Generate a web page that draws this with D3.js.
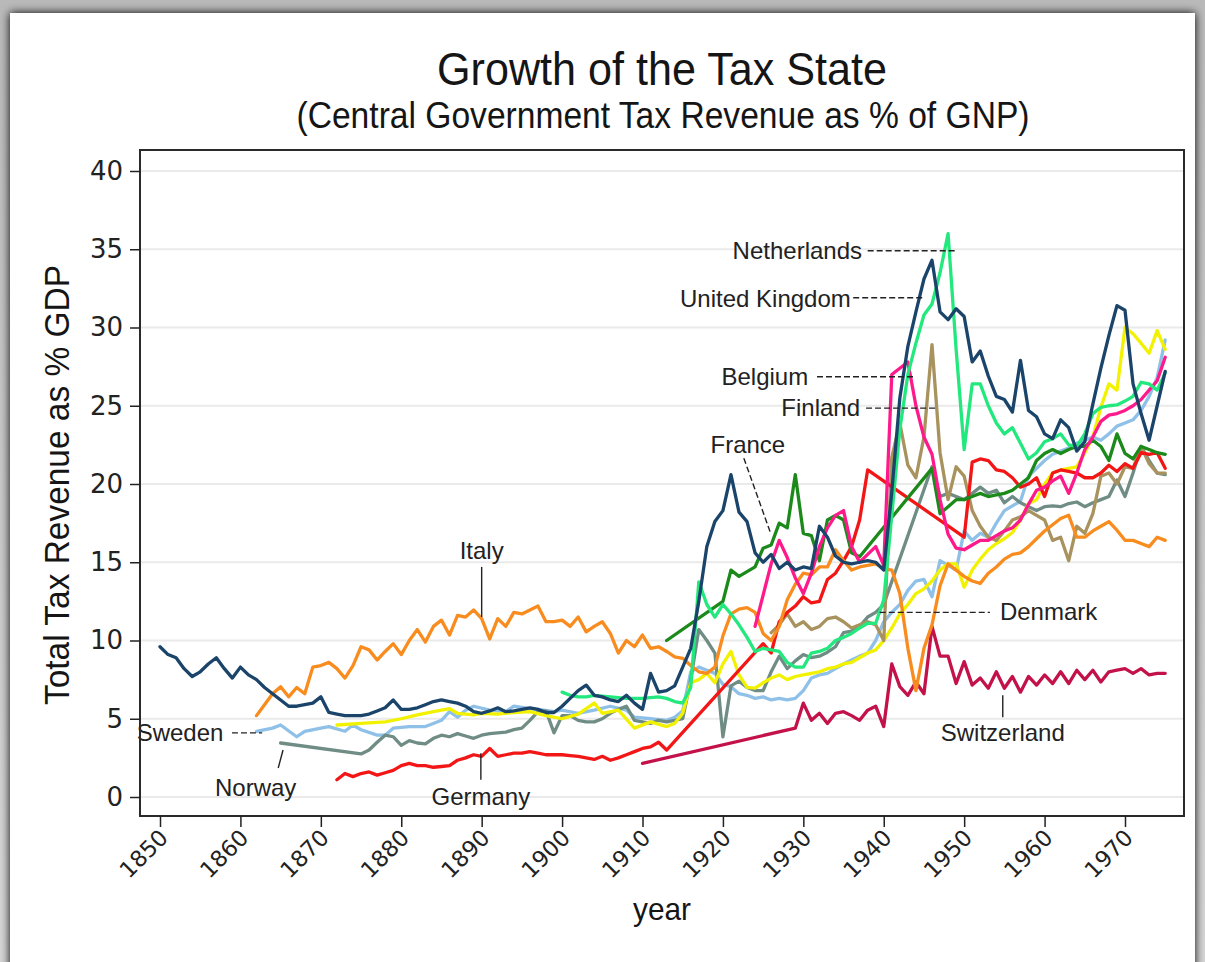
<!DOCTYPE html>
<html><head><meta charset="utf-8">
<script src="https://cdn.jsdelivr.net/npm/d3@7"></script>
<style>
html,body{margin:0;padding:0;background:#c4c4c4;}
svg{display:block;}
</style></head>
<body>
<svg id="chart" width="1205" height="962"></svg>
<script>
// ---------- data (year, % of GDP) ----------
const unitedKingdom = [[1850,9.6],[1851,9.1],[1852,8.9],[1853,8.2],[1854,7.7],[1855,8.0],[1856,8.5],[1857,8.9],[1858,8.2],[1859,7.6],[1860,8.3],[1861,7.8],[1862,7.5],[1863,7.0],[1864,6.6],[1865,6.2],[1866,5.8],[1867,5.8],[1868,5.9],[1869,6.0],[1870,6.4],[1871,5.4],[1872,5.3],[1873,5.2],[1874,5.2],[1875,5.2],[1876,5.3],[1877,5.5],[1878,5.7],[1879,6.2],[1880,5.6],[1881,5.6],[1882,5.7],[1883,5.9],[1884,6.1],[1885,6.2],[1886,6.1],[1887,6.0],[1888,5.8],[1889,5.45],[1890,5.35],[1891,5.5],[1892,5.7],[1893,5.45],[1894,5.5],[1895,5.6],[1896,5.7],[1897,5.6],[1898,5.4],[1899,5.4],[1900,5.8],[1901,6.3],[1902,6.8],[1903,7.15],[1904,6.5],[1905,6.4],[1906,6.2],[1907,6.1],[1908,6.5],[1909,6.0],[1910,5.6],[1911,7.9],[1912,6.7],[1913,6.8],[1914,7.1],[1915,8.3],[1916,9.5],[1917,12.5],[1918,16.0],[1919,17.6],[1920,18.3],[1921,20.6],[1922,18.2],[1923,17.6],[1924,15.6],[1925,15.0],[1926,15.5],[1927,14.6],[1928,15.0],[1929,14.5],[1930,14.7],[1931,14.6],[1932,17.3],[1933,16.6],[1934,15.4],[1935,15.0],[1936,14.9],[1937,15.0],[1938,15.1],[1939,15.0],[1940,14.5],[1941,19.5],[1942,25.5],[1943,28.8],[1944,31.0],[1945,33.1],[1946,34.3],[1947,31.0],[1948,30.5],[1949,31.2],[1950,30.7],[1951,27.8],[1952,28.5],[1953,26.9],[1954,25.6],[1955,25.4],[1956,24.6],[1957,27.9],[1958,24.7],[1959,24.3],[1960,23.2],[1961,22.9],[1962,24.1],[1963,23.6],[1964,22.1],[1965,22.7],[1966,25.1],[1967,27.4],[1968,29.5],[1969,31.4],[1970,31.1],[1971,26.4],[1972,24.5],[1973,22.8],[1974,25.0],[1975,27.2]];

const italy = [[1862,5.2],[1863,5.9],[1864,6.6],[1865,7.05],[1866,6.4],[1867,7.0],[1868,6.6],[1869,8.3],[1870,8.4],[1871,8.6],[1872,8.2],[1873,7.6],[1874,8.4],[1875,9.6],[1876,9.4],[1877,8.75],[1878,9.3],[1879,9.8],[1880,9.1],[1881,10.0],[1882,10.7],[1883,9.9],[1884,10.9],[1885,11.3],[1886,10.35],[1887,11.6],[1888,11.5],[1889,11.95],[1890,11.4],[1891,10.1],[1892,11.4],[1893,10.9],[1894,11.8],[1895,11.7],[1896,11.95],[1897,12.2],[1898,11.2],[1899,11.2],[1900,11.3],[1901,10.9],[1902,11.5],[1903,10.55],[1904,10.9],[1905,11.2],[1906,10.45],[1907,9.2],[1908,10.0],[1909,9.6],[1910,10.35],[1911,9.5],[1912,9.6],[1913,9.3],[1914,8.96],[1915,8.86],[1916,8.4],[1917,8.0],[1918,7.9],[1919,8.3],[1920,10.3],[1921,11.7],[1922,12.0],[1923,12.1],[1924,11.8],[1925,10.45],[1926,10.0],[1927,10.9],[1928,12.6],[1929,13.6],[1930,14.3],[1931,14.2],[1932,14.7],[1933,14.7],[1934,15.8],[1935,15.1],[1936,14.5],[1937,14.7],[1938,14.8],[1939,14.9],[1940,14.6],[1941,14.5],[1942,13.0],[1943,9.5],[1944,6.8],[1945,9.5],[1946,11.0],[1947,13.5],[1948,14.9],[1949,14.5],[1950,14.1],[1951,13.8],[1952,13.65],[1953,14.3],[1954,14.7],[1955,15.2],[1956,15.5],[1957,15.6],[1958,16.0],[1959,16.5],[1960,17.0],[1961,17.4],[1962,17.8],[1963,18.0],[1964,16.6],[1965,16.6],[1966,17.0],[1967,17.3],[1968,17.6],[1969,17.05],[1970,16.4],[1971,16.4],[1972,16.2],[1973,16.0],[1974,16.6],[1975,16.4]];

const germany = [[1872,1.1],[1873,1.5],[1874,1.3],[1875,1.5],[1876,1.6],[1877,1.4],[1878,1.55],[1879,1.7],[1880,2.0],[1881,2.15],[1882,2.0],[1883,2.0],[1884,1.9],[1885,1.95],[1886,2.0],[1887,2.35],[1888,2.5],[1889,2.7],[1890,2.6],[1891,3.1],[1892,2.6],[1893,2.7],[1894,2.8],[1895,2.8],[1896,2.9],[1897,2.8],[1898,2.7],[1899,2.7],[1900,2.7],[1901,2.65],[1902,2.6],[1903,2.5],[1904,2.4],[1905,2.6],[1906,2.35],[1907,2.5],[1908,2.7],[1909,2.9],[1910,3.1],[1911,3.2],[1912,3.5],[1913,3.0],[1925,9.8],[1926,9.2],[1927,11.2],[1928,11.8],[1929,12.2],[1930,12.8],[1931,12.4],[1932,12.5],[1933,13.9],[1934,14.3],[1935,15.1],[1936,16.0],[1937,17.7],[1938,20.9],[1950,16.6],[1951,21.4],[1952,21.6],[1953,21.5],[1954,20.9],[1955,20.8],[1956,20.4],[1957,19.8],[1958,20.0],[1959,20.4],[1960,19.2],[1961,20.7],[1962,20.9],[1963,20.8],[1964,20.7],[1965,20.4],[1966,20.4],[1967,20.7],[1968,21.2],[1969,20.8],[1970,21.3],[1971,21.0],[1972,22.0],[1973,21.9],[1974,22.0],[1975,21.0]];

const switzerland = [[1910,2.15],[1929,4.4],[1930,6.0],[1931,4.9],[1932,5.35],[1933,4.7],[1934,5.35],[1935,5.45],[1936,5.2],[1937,4.9],[1938,5.55],[1939,5.8],[1940,4.5],[1941,8.5],[1942,7.05],[1943,6.5],[1944,7.35],[1945,6.6],[1946,10.9],[1947,9.0],[1948,9.0],[1949,7.25],[1950,8.65],[1951,7.15],[1952,7.6],[1953,6.95],[1954,8.0],[1955,6.95],[1956,7.7],[1957,6.7],[1958,7.7],[1959,7.15],[1960,7.8],[1961,7.25],[1962,8.0],[1963,7.25],[1964,8.1],[1965,7.5],[1966,8.1],[1967,7.35],[1968,8.0],[1969,8.1],[1970,8.2],[1971,7.9],[1972,8.2],[1973,7.8],[1974,7.9],[1975,7.9]];

const sweden = [[1862,4.2],[1864,4.4],[1865,4.6],[1867,3.85],[1868,4.2],[1870,4.4],[1871,4.5],[1873,4.2],[1874,4.6],[1875,4.3],[1877,3.95],[1878,3.95],[1879,4.4],[1881,4.5],[1883,4.5],[1884,4.7],[1885,4.9],[1886,5.45],[1887,5.1],[1888,5.55],[1889,5.8],[1891,5.55],[1893,5.45],[1894,5.8],[1896,5.65],[1897,5.6],[1899,5.45],[1900,5.55],[1902,5.35],[1904,5.55],[1906,5.8],[1908,5.55],[1909,5.1],[1911,5.0],[1913,4.9],[1914,5.1],[1915,5.5],[1916,8.0],[1917,8.3],[1918,8.1],[1919,7.9],[1920,7.2],[1921,7.05],[1922,6.6],[1923,6.5],[1924,6.3],[1925,6.4],[1926,6.2],[1927,6.3],[1928,6.2],[1929,6.3],[1930,6.8],[1931,7.6],[1932,7.8],[1933,7.9],[1934,8.2],[1935,8.5],[1936,8.75],[1937,9.0],[1938,9.2],[1939,10.0],[1940,11.2],[1941,11.8],[1942,12.3],[1943,13.2],[1944,13.8],[1945,13.9],[1946,12.8],[1947,15.1],[1948,14.8],[1949,14.5],[1950,17.0],[1951,16.4],[1952,16.85],[1953,16.6],[1954,17.5],[1955,18.3],[1956,18.6],[1957,18.9],[1958,20.5],[1959,21.0],[1960,21.5],[1961,21.9],[1962,22.1],[1963,22.3],[1964,22.6],[1965,22.8],[1966,23.0],[1967,22.8],[1968,23.2],[1969,23.7],[1970,23.9],[1971,24.1],[1972,24.7],[1973,25.6],[1974,26.8],[1975,29.2]];

const norway = [[1865,3.45],[1875,2.75],[1876,3.0],[1877,3.5],[1878,3.95],[1879,3.85],[1880,3.3],[1881,3.6],[1882,3.45],[1883,3.4],[1884,3.75],[1885,3.95],[1886,3.85],[1887,4.05],[1888,3.9],[1889,3.75],[1890,3.95],[1891,4.05],[1892,4.1],[1893,4.15],[1894,4.3],[1895,4.4],[1896,4.9],[1897,5.45],[1898,5.5],[1899,4.1],[1900,5.2],[1901,5.2],[1902,4.9],[1903,4.8],[1904,4.8],[1905,5.0],[1906,5.35],[1907,5.6],[1908,5.8],[1909,4.9],[1910,4.8],[1911,4.7],[1912,4.9],[1913,4.8],[1914,4.9],[1915,5.0],[1916,7.5],[1917,10.7],[1918,10.0],[1919,9.2],[1920,3.85],[1921,7.1],[1922,7.4],[1923,7.0],[1924,6.8],[1925,6.8],[1926,8.0],[1927,9.0],[1928,8.2],[1929,8.7],[1930,9.1],[1931,8.9],[1932,9.0],[1933,9.25],[1934,9.6],[1935,10.5],[1936,10.6],[1937,10.9],[1938,11.5],[1939,11.8],[1940,12.3],[1946,21.1],[1947,19.2],[1948,19.4],[1949,19.2],[1950,19.0],[1951,19.4],[1952,19.8],[1953,19.4],[1954,19.6],[1955,18.8],[1956,19.2],[1957,18.8],[1958,18.55],[1959,18.3],[1960,18.55],[1961,18.6],[1962,18.55],[1963,18.75],[1964,18.85],[1965,18.55],[1966,18.8],[1967,19.0],[1968,19.2],[1969,20.25],[1970,19.2],[1971,20.7],[1972,22.4],[1973,21.5],[1974,20.7],[1975,20.6]];

const denmark = [[1872,4.6],[1875,4.7],[1878,4.8],[1880,5.0],[1882,5.25],[1884,5.45],[1886,5.65],[1887,5.35],[1889,5.25],[1890,5.35],[1892,5.3],[1894,5.4],[1896,5.45],[1898,5.2],[1900,5.0],[1902,5.3],[1904,6.0],[1905,5.35],[1907,5.55],[1909,4.4],[1911,4.8],[1913,4.5],[1914,4.7],[1915,5.35],[1916,7.3],[1917,7.5],[1918,7.9],[1919,7.3],[1920,8.5],[1921,9.3],[1922,7.8],[1923,7.0],[1924,6.95],[1925,7.3],[1926,7.6],[1927,7.8],[1928,7.5],[1929,7.7],[1930,7.8],[1931,7.9],[1932,8.0],[1933,8.2],[1934,8.3],[1935,8.5],[1936,8.6],[1937,8.9],[1938,9.2],[1939,9.4],[1940,10.0],[1941,10.8],[1942,11.7],[1943,12.3],[1944,13.0],[1945,13.3],[1946,13.8],[1947,14.5],[1948,14.9],[1949,14.9],[1950,13.4],[1951,14.5],[1952,15.2],[1953,15.8],[1954,16.2],[1955,16.5],[1956,16.9],[1957,17.7],[1958,18.75],[1959,19.0],[1960,20.0],[1961,20.7],[1962,20.9],[1963,21.0],[1964,21.1],[1965,22.0],[1966,23.0],[1967,24.9],[1968,26.4],[1969,26.0],[1970,30.0],[1971,29.6],[1972,29.0],[1973,28.35],[1974,29.8],[1975,28.6]];

const netherlands = [[1900,6.7],[1901,6.5],[1902,6.4],[1903,6.4],[1904,6.5],[1905,6.45],[1906,6.4],[1907,6.35],[1908,6.3],[1909,6.3],[1910,6.3],[1911,6.35],[1912,6.4],[1913,6.3],[1914,6.1],[1915,6.0],[1916,7.0],[1917,13.75],[1918,12.3],[1919,11.5],[1920,12.3],[1921,11.7],[1922,11.0],[1923,10.2],[1924,9.3],[1925,9.5],[1926,9.4],[1927,9.3],[1928,8.6],[1929,8.3],[1930,8.3],[1931,9.2],[1932,9.3],[1933,9.5],[1934,10.0],[1935,10.2],[1936,10.45],[1937,10.8],[1938,11.1],[1939,11.1],[1940,12.6],[1941,18.0],[1942,23.5],[1943,27.0],[1944,29.0],[1945,30.8],[1946,31.5],[1947,33.5],[1948,36.0],[1949,28.6],[1950,22.2],[1951,26.4],[1952,26.4],[1953,25.0],[1954,23.9],[1955,23.2],[1956,23.6],[1957,22.6],[1958,21.6],[1959,22.0],[1960,22.7],[1961,22.9],[1962,23.2],[1963,22.5],[1964,22.4],[1965,23.2],[1966,24.5],[1967,24.9],[1968,25.0],[1969,25.05],[1970,25.3],[1971,25.6],[1972,26.5],[1973,26.4],[1974,26.0],[1975,27.1]];

const belgium = [[1924,10.9],[1925,12.9],[1926,14.9],[1927,16.4],[1928,15.3],[1929,14.0],[1930,13.0],[1931,14.3],[1932,16.0],[1933,17.2],[1934,18.0],[1935,18.3],[1936,16.0],[1937,15.0],[1938,15.5],[1939,16.0],[1940,14.8],[1941,27.0],[1942,27.4],[1943,27.8],[1944,25.0],[1945,23.0],[1946,21.9],[1947,19.0],[1948,16.8],[1949,15.9],[1950,15.8],[1951,16.1],[1952,16.4],[1953,16.4],[1954,16.7],[1955,17.0],[1956,17.2],[1957,17.7],[1958,18.7],[1959,19.6],[1960,19.8],[1961,20.2],[1962,20.5],[1963,19.4],[1964,20.7],[1965,22.2],[1966,23.0],[1967,24.0],[1968,24.4],[1969,24.5],[1970,24.7],[1971,25.0],[1972,25.4],[1973,26.0],[1974,26.6],[1975,28.1]];

const france = [[1913,10.0],[1920,12.5],[1921,14.5],[1922,14.1],[1923,14.4],[1924,14.7],[1925,15.9],[1926,16.1],[1927,17.5],[1928,17.2],[1929,20.6],[1930,16.85],[1931,16.7],[1932,15.1],[1933,17.7],[1934,18.0],[1935,17.7],[1936,15.6],[1937,15.35],[1946,21.0],[1947,18.1],[1948,18.55],[1949,19.0],[1950,19.0],[1951,19.2],[1952,19.4],[1953,19.2],[1954,19.3],[1955,19.4],[1956,19.6],[1957,20.0],[1958,20.4],[1959,21.5],[1960,21.95],[1961,22.2],[1962,21.95],[1963,22.2],[1964,22.4],[1965,22.4],[1966,22.8],[1967,22.4],[1968,21.5],[1969,23.2],[1970,21.95],[1971,21.6],[1972,22.4],[1973,22.2],[1974,22.0],[1975,21.9]];

const finland = [[1926,10.5],[1927,11.0],[1928,11.7],[1929,10.9],[1930,11.2],[1931,10.7],[1932,10.9],[1933,11.4],[1934,11.5],[1935,11.2],[1936,10.8],[1937,11.0],[1938,11.2],[1939,11.0],[1940,10.0],[1941,21.7],[1942,23.9],[1943,21.2],[1944,20.4],[1945,23.0],[1946,28.9],[1947,22.0],[1948,19.0],[1949,21.1],[1950,20.5],[1951,18.3],[1952,17.3],[1953,16.6],[1954,16.4],[1955,17.0],[1956,17.7],[1957,17.9],[1958,18.3],[1959,18.0],[1960,17.7],[1961,16.4],[1962,16.6],[1963,15.1],[1964,17.3],[1965,16.85],[1966,18.1],[1967,20.5],[1968,20.7],[1969,20.0],[1970,21.1],[1971,21.0],[1972,22.4],[1973,21.3],[1974,20.7],[1975,20.7]];

// draw order (bottom -> top) and colours
const seriesNames = ["Sweden","Norway","Denmark","Finland","Switzerland","Germany","Italy","France","Belgium","Netherlands","United Kingdom"];
const seriesData  = [sweden, norway, denmark, finland, switzerland, germany, italy, france, belgium, netherlands, unitedKingdom];
const seriesColors = ["#8ec0e8","#6f8d85","#f2f200","#a8925e","#c3124a","#f21616","#f98c1e","#1b8a1b","#ff1a8c","#22e87e","#1b446a"];

const yTicks = [0,5,10,15,20,25,30,35,40];
const xTicks = [1850,1860,1870,1880,1890,1900,1910,1920,1930,1940,1950,1960,1970];

// annotations in data coordinates
const labelNames   = ["Netherlands","United Kingdom","Belgium","Finland","France","Italy","Sweden","Norway","Germany","Denmark","Switzerland"];
const labelAt      = [[1937.3,34.4],[1935.9,31.3],[1930.6,26.3],[1937.05,24.35],[1923.1,22.0],[1890.0,15.2],[1847.1,3.6],[1861.9,0.05],[1889.9,-0.5],[1954.45,11.3],[1954.8,3.6]];
const labelAnchor  = ["end","end","end","end","middle","middle","start","middle","middle","start","middle"];
const leaderFrom   = [[1938.0,34.9],[1936.2,31.9],[1931.7,26.85],[1937.8,24.85],[1922.6,21.65],[1890.0,14.7],[1858.95,4.1],[1865.3,3.0],[1889.9,2.8],[1939.5,11.8],[1954.8,6.5]];
const leaderTo     = [[1948.9,34.9],[1945.1,31.9],[1943.9,26.85],[1946.6,24.85],[1925.9,16.9],[1890.0,11.5],[1862.7,4.1],[1864.7,1.85],[1889.9,1.1],[1953.2,11.8],[1954.8,5.1]];
const leaderDashed = [true,true,true,true,true,false,true,false,false,true,false];

// ---------- drawing ----------
const svg = d3.select("#chart");
const W = 1205, H = 962;
const box = {left:140, right:1184, top:150, bottom:816};

const defs = svg.append("defs");
const f = defs.append("filter").attr("id","shadow").attr("x","-5%").attr("y","-5%").attr("width","110%").attr("height","110%");
f.append("feGaussianBlur").attr("in","SourceAlpha").attr("stdDeviation",5);
f.append("feOffset").attr("dx",0).attr("dy",0).attr("result","b");
const fm = f.append("feMerge"); fm.append("feMergeNode").attr("in","b"); fm.append("feMergeNode").attr("in","SourceGraphic");

const g0 = defs.append("linearGradient").attr("id","bg").attr("x1",0).attr("y1",0).attr("x2",0).attr("y2",1);
g0.append("stop").attr("offset","0").attr("stop-color","#b9b9b9");
g0.append("stop").attr("offset","1").attr("stop-color","#d6d6d6");
svg.append("rect").attr("width",W).attr("height",H).attr("fill","url(#bg)");
svg.append("rect").attr("x",10).attr("y",13).attr("width",1185).attr("height",970)
  .attr("fill","#ffffff").attr("filter","url(#shadow)");

const x = d3.scaleLinear().domain([1850,1970]).range([160,1125]);
const y = d3.scaleLinear().domain([0,40]).range([797,171]);

// gridlines
svg.append("g").selectAll("line").data(yTicks).join("line")
  .attr("x1",box.left).attr("x2",box.right)
  .attr("y1",d=>y(d)).attr("y2",d=>y(d))
  .attr("stroke","#eaeaea").attr("stroke-width",2);

// series lines
const line = d3.line().x(d=>x(d[0])).y(d=>y(d[1]));
svg.append("g").selectAll("path").data(seriesData).join("path")
  .attr("d",line).attr("fill","none")
  .attr("stroke",(d,i)=>seriesColors[i])
  .attr("stroke-width",3.3).attr("stroke-linejoin","round").attr("stroke-linecap","round");

// annotation leaders and labels
const ann = svg.append("g");
labelNames.forEach((name,i)=>{
  ann.append("line")
    .attr("x1",x(leaderFrom[i][0])).attr("y1",y(leaderFrom[i][1]))
    .attr("x2",x(leaderTo[i][0])).attr("y2",y(leaderTo[i][1]))
    .attr("stroke","#222").attr("stroke-width",1.4)
    .attr("stroke-dasharray",leaderDashed[i]?"6,3":null);
  ann.append("text")
    .attr("x",x(labelAt[i][0])).attr("y",y(labelAt[i][1]))
    .attr("text-anchor",labelAnchor[i])
    .attr("font-family","'Liberation Sans', Arial, sans-serif")
    .attr("font-size",24).attr("fill","#222").text(name);
});

// plot frame
svg.append("rect").attr("x",box.left).attr("y",box.top)
  .attr("width",box.right-box.left).attr("height",box.bottom-box.top)
  .attr("fill","none").attr("stroke","#2a2a2a").attr("stroke-width",2);

// y axis
const yAxis = svg.append("g").attr("transform",`translate(${box.left},0)`)
  .call(d3.axisLeft(y).tickValues(yTicks).tickSize(10).tickPadding(7));
yAxis.select(".domain").remove();
yAxis.selectAll(".tick line").attr("stroke","#222").attr("stroke-width",1.5);
yAxis.selectAll(".tick text").attr("font-family","'DejaVu Sans', sans-serif")
  .attr("font-size",26).attr("fill","#222");

// x axis
const xAxis = svg.append("g").attr("transform",`translate(0,${box.bottom})`)
  .call(d3.axisBottom(x).tickValues(xTicks).tickFormat(d3.format("d")).tickSize(11));
xAxis.select(".domain").remove();
xAxis.selectAll(".tick line").attr("stroke","#222").attr("stroke-width",1.5);
xAxis.selectAll(".tick text")
  .attr("font-family","'DejaVu Sans', sans-serif").attr("font-size",22.5).attr("fill","#222")
  .attr("text-anchor","end").attr("dy",null).attr("y",0).attr("x",0)
  .attr("transform","translate(9,23) rotate(-45)");

// titles
function txt(t, xx, yy, size, len, rot){
  const e = svg.append("text").attr("x",xx).attr("y",yy)
    .attr("text-anchor","middle")
    .attr("font-family","'Liberation Sans', Arial, sans-serif")
    .attr("font-size",size).attr("fill","#151515")
    .attr("textLength",len).attr("lengthAdjust","spacingAndGlyphs").text(t);
  if(rot) e.attr("transform",`rotate(-90,${xx},${yy})`);
  return e;
}
txt("Growth of the Tax State", 662, 85, 46, 450);
txt("(Central Government Tax Revenue as % of GNP)", 663, 128, 37, 733);
txt("Total Tax Revenue as % GDP", 69, 485, 35, 440, true);
txt("year", 662, 920, 32, 58);
</script>
</body></html>
